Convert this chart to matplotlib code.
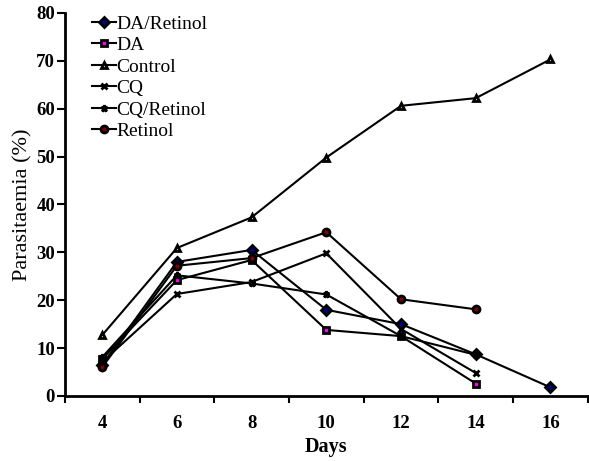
import matplotlib.pyplot as plt

days = [4, 6, 8, 10, 12, 14, 16]

da_retinol = [6.5, 28.0, 30.5, 18.0, 15.0, 8.7, 1.8]
da = [7.7, 24.2, 28.4, 13.8, 12.5, 2.6]
control = [12.7, 30.9, 37.3, 49.8, 60.6, 62.2, 70.3]
cq = [7.1, 21.3, 23.8, 29.8, 14.0, 4.8]
cq_retinol = [8.1, 25.2, 23.5, 21.2, 12.5, 8.6]
retinol = [6.0, 27.2, 28.8, 34.2, 20.2, 18.1]

plt.rcParams['font.family'] = ['Liberation Serif', 'DejaVu Serif']

fig = plt.figure(figsize=(5.89, 4.61), dpi=100)
ax = fig.add_axes([0.110, 0.141, 0.888, 0.831])

common = dict(color='black', linewidth=1.5, markersize=5, markeredgecolor='black',
              markeredgewidth=2)
ax.plot(days, da_retinol, marker='D', markerfacecolor='#000080', label='DA/Retinol', **common)
ax.plot(days[:6], da, marker='s', markerfacecolor='#ff00ff', label='DA', **common)
ax.plot(days, control, marker='^', markerfacecolor='#ffff00', label='Control', **common)
ax.plot(days[:6], cq, marker='x', label='CQ', **common)
ax.plot(days[:6], cq_retinol, marker='*', markerfacecolor='black', label='CQ/Retinol', **common)
ax.plot(days[:6], retinol, marker='o', markerfacecolor='#800000', label='Retinol', **common)

ax.set_xlim(3, 17)
ax.set_ylim(0, 80)
ax.set_xticks(days)
ax.set_xticks(range(3, 18, 2), minor=True)
ax.tick_params(axis='x', which='major', length=0, pad=14)
ax.tick_params(axis='x', which='minor', length=5, width=1.5, direction='out')
ax.set_yticks(range(0, 81, 10))
ax.tick_params(axis='y', length=6, width=1.5, direction='out', pad=1)
for lbl in ax.get_xticklabels() + ax.get_yticklabels():
    lbl.set_fontsize(13.5)
    lbl.set_fontweight('bold')

for side in ['top', 'right']:
    ax.spines[side].set_visible(False)
for side in ['left', 'bottom']:
    ax.spines[side].set_linewidth(2)

ax.set_xlabel('Days', fontsize=14.5, fontweight='bold', labelpad=3)
ax.set_ylabel('Parasitaemia (%)', fontsize=16, labelpad=3)

ax.legend(loc='upper left', bbox_to_anchor=(0.038, 1.015), frameon=False, fontsize=14,
          handlelength=1.2, handletextpad=0.05, labelspacing=0.2, borderaxespad=0)

fig.savefig('out.png', dpi=100)
